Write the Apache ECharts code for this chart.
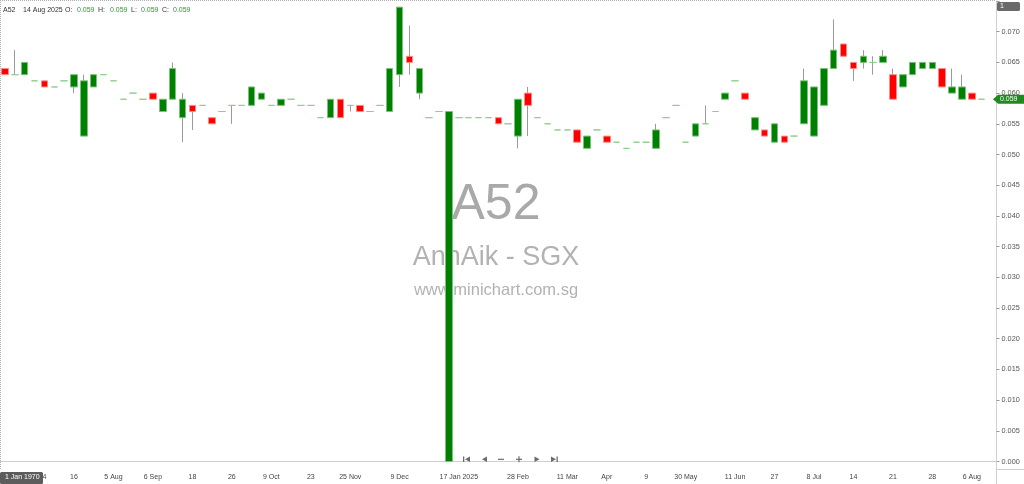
<!DOCTYPE html>
<html><head><meta charset="utf-8">
<script src="https://cdn.jsdelivr.net/npm/echarts@6/dist/echarts.min.js"></script>
<style>html,body{margin:0;padding:0;background:#fff}#c{width:1024px;height:484px}</style>
</head><body><div id="c"></div>
<script>
// x-axis tick labels, one per candle ('' = no label)
const tickLabels = [
 '', '', '', '', '4', '', '', '16', '', '',
 '', '5 Aug', '', '', '', '6 Sep', '', '', '', '18',
 '', '', '', '26', '', '', '', '9 Oct', '', '',
 '', '23', '', '', '', '25 Nov', '', '', '', '',
 '9 Dec', '', '', '', '', '', '17 Jan 2025', '', '', '',
 '', '', '28 Feb', '', '', '', '', '11 Mar', '', '',
 '', 'Apr', '', '', '', '9', '', '', '', '30 May',
 '', '', '', '', '11 Jun', '', '', '', '27', '',
 '', '', '8 Jul', '', '', '', '14', '', '', '',
 '21', '', '', '', '28', '', '', '', '6 Aug', ''
];
const openVals = [
 0.064,0.063,0.063,0.062,0.062,0.061,0.062,0.061,0.053,0.061,
 0.063,0.062,0.059,0.060,0.059,0.060,0.057,0.059,0.056,0.058,
 0.058,0.056,0.057,0.058,0.058,0.058,0.059,0.058,0.058,0.059,
 0.058,0.058,0.056,0.056,0.059,0.058,0.058,0.057,0.058,0.057,
 0.063,0.066,0.060,0.056,0.057,0.000,0.056,0.056,0.056,0.056,
 0.056,0.055,0.053,0.060,0.056,0.055,0.054,0.054,0.054,0.051,
 0.054,0.053,0.052,0.051,0.052,0.052,0.051,0.056,0.058,0.052,
 0.053,0.055,0.057,0.059,0.062,0.060,0.054,0.054,0.052,0.053,
 0.053,0.055,0.053,0.058,0.064,0.068,0.065,0.065,0.065,0.065,
 0.063,0.061,0.063,0.064,0.064,0.064,0.060,0.059,0.060,0.059
];
const highVals = [
 0.064,0.067,0.065,0.062,0.062,0.061,0.062,0.063,0.063,0.063,
 0.063,0.062,0.059,0.060,0.059,0.060,0.059,0.065,0.060,0.058,
 0.058,0.056,0.057,0.058,0.058,0.061,0.060,0.058,0.059,0.059,
 0.058,0.058,0.056,0.059,0.059,0.058,0.058,0.057,0.058,0.064,
 0.074,0.071,0.064,0.056,0.057,0.057,0.056,0.056,0.056,0.056,
 0.056,0.055,0.059,0.061,0.056,0.055,0.054,0.054,0.054,0.053,
 0.054,0.053,0.052,0.051,0.052,0.052,0.055,0.056,0.058,0.052,
 0.055,0.058,0.057,0.060,0.062,0.060,0.056,0.054,0.055,0.053,
 0.053,0.064,0.061,0.064,0.072,0.068,0.065,0.067,0.066,0.067,
 0.064,0.063,0.065,0.065,0.065,0.064,0.064,0.063,0.060,0.059
];
const lowVals = [
 0.063,0.063,0.063,0.062,0.061,0.061,0.062,0.060,0.053,0.061,
 0.063,0.062,0.059,0.060,0.059,0.059,0.057,0.059,0.052,0.054,
 0.058,0.055,0.057,0.055,0.058,0.058,0.059,0.058,0.058,0.059,
 0.058,0.058,0.056,0.056,0.056,0.057,0.057,0.057,0.058,0.057,
 0.061,0.063,0.059,0.056,0.057,0.000,0.056,0.056,0.056,0.056,
 0.055,0.055,0.051,0.053,0.056,0.055,0.054,0.054,0.052,0.051,
 0.054,0.052,0.052,0.051,0.052,0.052,0.051,0.056,0.058,0.052,
 0.053,0.055,0.057,0.059,0.062,0.059,0.054,0.053,0.052,0.052,
 0.053,0.055,0.053,0.058,0.064,0.066,0.062,0.064,0.063,0.065,
 0.059,0.061,0.063,0.064,0.064,0.061,0.060,0.059,0.059,0.059
];
const closeVals = [
 0.063,0.063,0.065,0.062,0.061,0.061,0.062,0.063,0.062,0.063,
 0.063,0.062,0.059,0.060,0.059,0.059,0.059,0.064,0.059,0.057,
 0.058,0.055,0.057,0.058,0.058,0.061,0.060,0.058,0.059,0.059,
 0.058,0.058,0.056,0.059,0.056,0.058,0.057,0.057,0.058,0.064,
 0.074,0.065,0.064,0.056,0.057,0.057,0.056,0.056,0.056,0.056,
 0.055,0.055,0.059,0.058,0.056,0.055,0.054,0.054,0.052,0.053,
 0.054,0.052,0.052,0.051,0.052,0.052,0.054,0.056,0.058,0.052,
 0.055,0.055,0.057,0.060,0.062,0.059,0.056,0.053,0.055,0.052,
 0.053,0.062,0.061,0.064,0.067,0.066,0.064,0.066,0.065,0.066,
 0.059,0.063,0.065,0.065,0.065,0.061,0.061,0.061,0.059,0.059
];
const symbol = 'A52';
const lastDate = '14 Aug 2025';
const watermarkName = 'AnnAik - SGX';
const watermarkSite = 'www.minichart.com.sg';

const FONT = 'Liberation Sans, Arial, sans-serif';
const categories = tickLabels.concat(['']);
const n = openVals.length;
const last = n - 1;

const bodyData = [], wickData = [];
for (let i = 0; i < n; i++) {
  const o = openVals[i], c = closeVals[i];
  const item = { value: [o, c, Math.min(o, c), Math.max(o, c)] };
  if (o === c) item.itemStyle = { borderColor: '#8dcf8d', borderColor0: '#8dcf8d', color: '#8dcf8d', color0: '#8dcf8d' };
  bodyData.push(item);
  wickData.push([lowVals[i], highVals[i], lowVals[i], highVals[i]]);
}

const chart = echarts.init(document.getElementById('c'), null, { renderer: 'canvas' });
const fmt = v => v.toFixed(3);

const option = {
  animation: false,
  backgroundColor: '#fff',
  grid: { left: 0, top: 1, width: 996.5, height: 460.5, containLabel: false },
  xAxis: {
    type: 'category', data: categories, boundaryGap: true, offset: 7.5,
    axisLine: { lineStyle: { color: '#cfcfcf', width: 1 } },
    axisTick: { alignWithLabel: true, length: 3, interval: (i, v) => v !== '', lineStyle: { color: '#bbb' } },
    axisLabel: { interval: (i, v) => v !== '', fontSize: 7, color: '#444', margin: 5, fontFamily: FONT },
    splitLine: { show: false }
  },
  yAxis: {
    type: 'value', position: 'right', min: 0, max: 0.075, interval: 0.005,
    axisLine: { show: true, lineStyle: { color: '#cfcfcf' } },
    axisTick: { show: true, length: 3, lineStyle: { color: '#999' } },
    axisLabel: { fontSize: 7.3, color: '#555', margin: 5, fontFamily: FONT,
      formatter: v => (v > 0.0725 ? '' : fmt(v)) },
    splitLine: { show: false }
  },
  series: [
    {
      type: 'candlestick', name: 'wick', data: wickData, barWidth: 1, barMinWidth: 1, z: 2,
      itemStyle: { color: '#9a9a9a', color0: '#9a9a9a', borderColor: '#9a9a9a', borderColor0: '#9a9a9a', borderWidth: 1 },
      emphasis: { disabled: true }
    },
    {
      type: 'candlestick', name: symbol, data: bodyData, barWidth: 7, z: 3,
      itemStyle: { color: '#008000', color0: '#ff0000', borderColor: '#79c279', borderColor0: '#ff8a8a', borderWidth: 1, borderColorDoji: '#8dcf8d' },
      emphasis: { disabled: true }
    }
  ]
};
chart.setOption(option);

const tagY = chart.convertToPixel({ yAxisIndex: 0 }, closeVals[last]);
const cx = 496;
const txt = (x, y, s, fill, size, align, extra) => Object.assign({
  type: 'text', x: x, y: y, z: 100,
  style: { text: s, fill: fill, fontSize: size, fontFamily: FONT, textAlign: align || 'left', textVerticalAlign: 'middle' }
}, extra || {});
const poly = (pts, fill) => ({ type: 'polygon', z: 100, shape: { points: pts }, style: { fill: fill } });
const rect = (x, y, w, h, fill, r) => ({ type: 'rect', z: 100, shape: { x: x, y: y, width: w, height: h, r: r || 0 }, style: { fill: fill } });

const g = [
  // watermark (behind series)
  { type: 'text', x: cx, y: 205, z: 1, style: { text: symbol, fill: '#a9a9a9', fontSize: 50, fontFamily: FONT, textAlign: 'center', textVerticalAlign: 'middle' } },
  { type: 'text', x: cx, y: 258, z: 1, style: { text: watermarkName, fill: '#b2b2b2', fontSize: 27, fontFamily: FONT, textAlign: 'center', textVerticalAlign: 'middle' } },
  { type: 'text', x: cx, y: 290, z: 1, style: { text: watermarkSite, fill: '#b2b2b2', fontSize: 16.5, fontFamily: FONT, textAlign: 'center', textVerticalAlign: 'middle' } },
  // dotted frame top / left
  { type: 'line', z: 100, shape: { x1: 0, y1: 0.5, x2: 996, y2: 0.5 }, style: { stroke: '#b0b0b0', lineDash: [1, 1], lineWidth: 1 } },
  { type: 'line', z: 100, shape: { x1: 0.5, y1: 0, x2: 0.5, y2: 469 }, style: { stroke: '#b0b0b0', lineDash: [1, 1], lineWidth: 1 } },
  // axis line extensions
  { type: 'line', z: 100, shape: { x1: 996.5, y1: 469.5, x2: 1024, y2: 469.5 }, style: { stroke: '#cfcfcf', lineWidth: 1 } },
  { type: 'line', z: 100, shape: { x1: 996.5, y1: 461, x2: 996.5, y2: 484 }, style: { stroke: '#cfcfcf', lineWidth: 1 } },
  // header
  txt(3, 10.5, symbol, '#333', 7),
  txt(23, 10.5, lastDate, '#333', 7),
  txt(65, 10.5, 'O:', '#333', 7),
  txt(77, 10.5, fmt(openVals[last]), '#2f9a2f', 7),
  txt(98, 10.5, 'H:', '#333', 7),
  txt(110, 10.5, fmt(highVals[last]), '#2f9a2f', 7),
  txt(131, 10.5, 'L:', '#333', 7),
  txt(141, 10.5, fmt(lowVals[last]), '#2f9a2f', 7),
  txt(162, 10.5, 'C:', '#333', 7),
  txt(173, 10.5, fmt(closeVals[last]), '#2f9a2f', 7),
  // top-right "1" box
  rect(997, 2, 23, 9, '#6a6a6a', 1.5),
  txt(1000, 6.5, '1', '#fff', 7),
  // last price tag
  poly([[993, tagY], [998, tagY - 4.5], [1024, tagY - 4.5], [1024, tagY + 4.5], [998, tagY + 4.5]], '#1f8a1f'),
  txt(1000, tagY, fmt(closeVals[last]), '#fff', 7),
  // crosshair date box
  rect(0, 472, 43, 12, '#5c5c5c', 1.5),
  txt(5, 477.5, '1 Jan 1970', '#fff', 7),
  // navigation buttons
  rect(463, 456.5, 1.3, 5.5, '#6b6b6b'),
  poly([[470, 456.5], [470, 462], [465, 459.25]], '#6b6b6b'),
  poly([[487, 456.5], [487, 462], [482, 459.25]], '#6b6b6b'),
  rect(498, 458.7, 6, 1.2, '#6b6b6b'),
  rect(516, 458.7, 6, 1.2, '#6b6b6b'),
  rect(518.4, 456.3, 1.2, 6, '#6b6b6b'),
  poly([[534.5, 456.5], [534.5, 462], [539.5, 459.25]], '#6b6b6b'),
  poly([[551, 456.5], [551, 462], [556, 459.25]], '#6b6b6b'),
  rect(556.5, 456.5, 1.3, 5.5, '#6b6b6b')
];
chart.setOption({ graphic: { elements: g } });
</script>
</body></html>
